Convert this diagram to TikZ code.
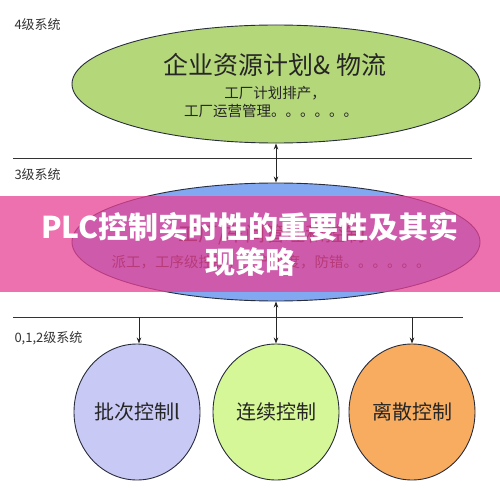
\documentclass[tikz,border=0pt]{standalone}
\usepackage{fontspec}
\setmainfont{Noto Sans CJK SC}
\usepackage{tikz}
\usetikzlibrary{arrows.meta, positioning, shapes.geometric}

\definecolor{erpgreen}{RGB}{180,215,122}
\definecolor{mesblue}{RGB}{130,168,242}
\definecolor{batchlav}{RGB}{201,201,245}
\definecolor{contgreen}{RGB}{214,247,151}
\definecolor{discorange}{RGB}{247,172,95}
\definecolor{bannerpink}{RGB}{232,65,149}
\definecolor{rimdark}{RGB}{40,45,60}

\begin{document}
\begin{tikzpicture}[x=1pt, y=-1pt,
        level/.style={anchor=west, font=\fontsize{13}{15}\selectfont, text=black!80},
        bigoval/.style={draw=rimdark, line width=0.9pt, ellipse,
                        minimum width=408pt, minimum height=118pt, inner sep=0pt},
        subtxt/.style={font=\fontsize{14.5}{18}\selectfont, text=black!85, inner sep=0pt},
        ctrl/.style={draw=rimdark, line width=0.9pt, ellipse,
                     minimum width=126pt, minimum height=136pt, inner sep=0pt,
                     font=\fontsize{20}{24}\selectfont, text=black!85},
        bus/.style={line width=0.9pt, black!80},
        arr/.style={-{Stealth[length=6pt, width=4.5pt]}, line width=0.8pt, black!85},
        darr/.style={{Stealth[length=6pt, width=4.5pt]}-{Stealth[length=6pt, width=4.5pt]},
                     line width=0.8pt, black!85}
    ]
        \useasboundingbox[fill=white] (0,0) rectangle (500,489);

        % level 4
        \node[level] (lv4) at (11,25) {4级系统};
        \node[bigoval, fill=erpgreen] (erp) at (276,84) {};
        \node[font=\fontsize{25}{28}\selectfont, text=black!85] (erptitle) at (275,65) {企业资源计划\& 物流};
        \node[subtxt] (erpsub1) at (275,93) {工厂计划排产，};
        \node[subtxt] (erpsub2) at (271,111) {工厂运营管理。。。。。。};

        % level 3
        \draw[bus] (13,158) -- (472,158);
        \node[level] (lv3) at (11,175) {3级系统};
        \node[bigoval, fill=mesblue] (mes) at (276,242) {};
        \node[font=\fontsize{20}{24}\selectfont, text=black!85] (mestitle) at (272,235) {工厂/车间管理和控制};
        \node[subtxt] (messub) at (271,262) {派工，工序级控制，生产进度，防错。。。。。。};

        % levels 0,1,2
        \draw[bus] (13,317) -- (463,317);
        \node[level] (lv0) at (11,338) {0,1,2级系统};
        \node[ctrl, fill=batchlav] (batch) at (137,412) {批次控制l};
        \node[ctrl, fill=contgreen] (cont) at (276,412) {连续控制};
        \node[ctrl, fill=discorange] (disc) at (412,412) {离散控制};

        \coordinate (busL) at (139,317);
        \coordinate (busR) at (412,317);

        \draw[darr] (erp.south) -- (mes.north);
        \draw[darr] (mes.south) -- (cont.north);
        \draw[arr] (busL) -- (batch.north -| busL);
        \draw[arr] (busR) -- (disc.north);

        % title banner
        \node[fill=bannerpink, fill opacity=0.75, text opacity=1, text=white,
              minimum width=500pt, minimum height=96pt, inner sep=0pt, align=center,
              font=\fontsize{30}{35}\selectfont\bfseries] (banner) at (250,244)
            {PLC控制实时性的重要性及其实\\现策略};
    \end{tikzpicture}
\end{document}
